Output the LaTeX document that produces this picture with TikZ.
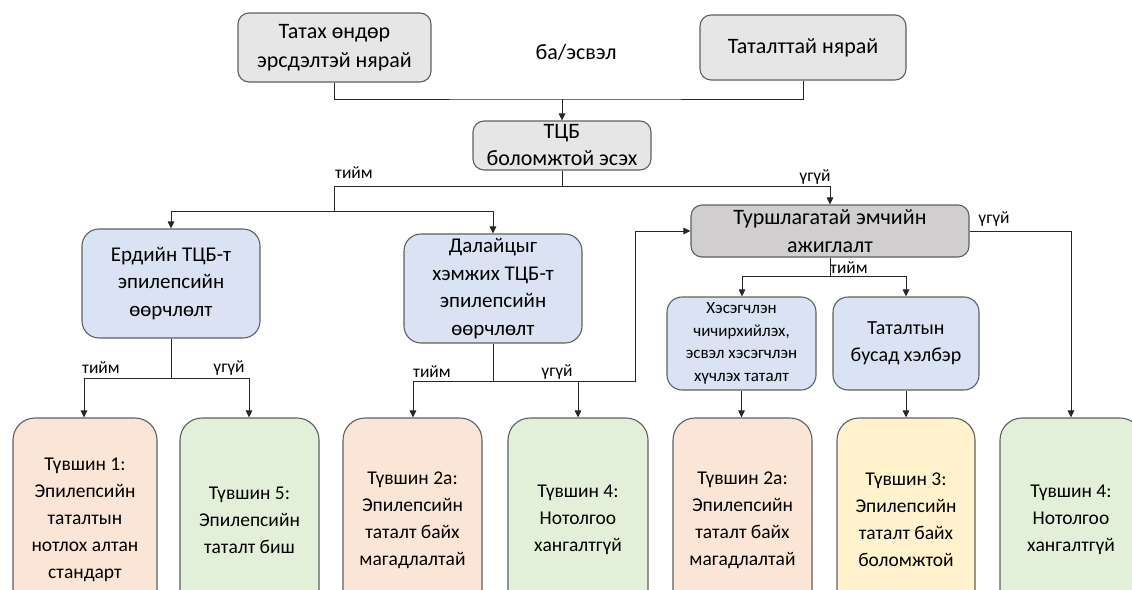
\documentclass[tikz,border=0pt]{standalone}
\usepackage{fontspec}
\setmainfont{Carlito}
\usetikzlibrary{arrows.meta}
\definecolor{bordercol}{HTML}{5F5F5F}
\definecolor{linecol}{HTML}{262626}
\definecolor{lgray}{HTML}{E7E6E6}
\definecolor{dgray}{HTML}{D0CECE}
\definecolor{lblue}{HTML}{DAE3F3}
\definecolor{peach}{HTML}{FBE5D6}
\definecolor{lgreen}{HTML}{E2F0D9}
\definecolor{lyellow}{HTML}{FFF2CC}
\tikzset{
  box/.style={draw=bordercol, line width=1.1pt, align=center, inner sep=0pt},
  topbox/.style={box, fill=lgray, rounded corners=11pt, font=\fontsize{22}{29}\selectfont},
  midbox/.style={box, fill=lblue, rounded corners=17pt, font=\fontsize{21}{27.5}\selectfont},
  smallbox/.style={box, fill=lblue, rounded corners=15pt, font=\fontsize{17}{22.5}\selectfont},
  levelbox/.style={box, rounded corners=22pt, minimum height=204pt, font=\fontsize{19.5}{27}\selectfont},
  conn/.style={draw=linecol, line width=1pt},
  arr/.style={conn, -{Triangle[length=7pt,width=6.5pt]}},
  lbl/.style={font=\fontsize{17.5}{19}\selectfont, inner sep=0pt}
}
\begin{document}
\begin{tikzpicture}[x=1pt,y=-1pt]
\useasboundingbox (0,0) rectangle (1132,589);
\clip (0,0) rectangle (1132,589);
% top row
\node[topbox, minimum width=193pt, minimum height=69pt] (A) at (334.5,47.5) {Татах өндөр\\эрсдэлтэй нярай};
\node[topbox, minimum width=206pt, minimum height=65pt] (B) at (803,47.5) {Таталттай нярай};
\node[font=\fontsize{22}{25}\selectfont, inner sep=0pt] (or) at (576,52) {ба/эсвэл};
\node[topbox, minimum width=178pt, minimum height=49pt, font=\fontsize{22}{27}\selectfont] (tcb) at (562,145.5) {ТЦБ\\боломжтой эсэх};
% middle row
\node[midbox, minimum width=178pt, minimum height=109pt] (erd) at (171,283.5) {Ердийн ТЦБ-т\\эпилепсийн\\өөрчлөлт};
\node[midbox, minimum width=178pt, minimum height=109pt] (dal) at (493,288.5) {Далайцыг\\хэмжих ТЦБ-т\\эпилепсийн\\өөрчлөлт};
\node[topbox, fill=dgray, minimum width=278pt, minimum height=52pt, font=\fontsize{22}{28}\selectfont] (tur) at (830,231) {Туршлагатай эмчийн\\ажиглалт};
\node[smallbox, minimum width=149pt, minimum height=93pt] (hes) at (741.5,343.5) {Хэсэгчлэн\\чичирхийлэх,\\эсвэл хэсэгчлэн\\хүчлэх таталт};
\node[midbox, rounded corners=15pt, minimum width=146pt, minimum height=93pt, font=\fontsize{20}{27}\selectfont] (bus) at (906,343.5) {Таталтын\\бусад хэлбэр};
% bottom row
\node[levelbox, fill=peach,   minimum width=144pt] (b1) at (85,520)   {Түвшин 1:\\Эпилепсийн\\таталтын\\нотлох алтан\\стандарт};
\node[levelbox, fill=lgreen,  minimum width=139pt] (b2) at (249.5,520) {Түвшин 5:\\Эпилепсийн\\таталт биш};
\node[levelbox, fill=peach,   minimum width=139pt] (b3) at (412.5,520) {Түвшин 2а:\\Эпилепсийн\\таталт байх\\магадлалтай};
\node[levelbox, fill=lgreen,  minimum width=140pt] (b4) at (578,520)   {Түвшин 4:\\Нотолгоо\\хангалтгүй};
\node[levelbox, fill=peach,   minimum width=139pt] (b5) at (742.5,520) {Түвшин 2а:\\Эпилепсийн\\таталт байх\\магадлалтай};
\node[levelbox, fill=lyellow, minimum width=138pt] (b6) at (906,520)   {Түвшин 3:\\Эпилепсийн\\таталт байх\\боломжтой};
\node[levelbox, fill=lgreen,  minimum width=142pt] (b7) at (1071,520)  {Түвшин 4:\\Нотолгоо\\хангалтгүй};
% junction coordinates
\coordinate (j1) at (562,99);
\coordinate (j2) at (562,186);
\coordinate (j2l) at (334,186);
\coordinate (j2r) at (830,186);
\coordinate (j3) at (334,211);
\coordinate (j3l) at (171,211);
\coordinate (j3r) at (493,211);
\coordinate (j4) at (171,378);
\coordinate (j4l) at (84,378);
\coordinate (j4r) at (249,378);
\coordinate (j5) at (493,381);
\coordinate (j5l) at (413,381);
\coordinate (j5m) at (578,381);
\coordinate (j5r) at (635,381);
\coordinate (j5u) at (635,231);
\coordinate (j6) at (1071,231);
\coordinate (j7) at (830,276);
\coordinate (j7l) at (742,276);
\coordinate (j7r) at (906,276);
% connectors
\draw[conn] (A.south) |- (j1) -| (B.south);
\draw[arr] (j1) -- (tcb.north);
\draw[conn] (tcb.south) -- (j2);
\draw[conn] (j2l) -- (j2r);
\draw[arr] (j2r) -- (tur.north);
\draw[conn] (j2l) -- (j3);
\draw[conn] (j3l) -- (j3r);
\draw[arr] (j3l) -- (erd.north);
\draw[arr] (j3r) -- (dal.north);
\draw[conn] (erd.south) -- (j4);
\draw[conn] (j4l) -- (j4r);
\draw[arr] (j4l) -- (j4l |- b1.north);
\draw[arr] (j4r) -- (j4r |- b2.north);
\draw[conn] (dal.south) -- (j5);
\draw[conn] (j5l) -- (j5r) -- (j5u);
\draw[arr] (j5u) -- (tur.west);
\draw[arr] (j5l) -- (j5l |- b3.north);
\draw[arr] (j5m) -- (j5m |- b4.north);
\draw[conn] (tur.east) -- (j6);
\draw[arr] (j6) -- (j6 |- b7.north);
\draw[conn] (tur.south) -- (j7);
\draw[conn] (j7l) -- (j7r);
\draw[arr] (j7l) -- (j7l |- hes.north);
\draw[arr] (j7r) -- (j7r |- bus.north);
\draw[arr] (hes.south) -- (hes.south |- b5.north);
\draw[arr] (bus.south) -- (bus.south |- b6.north);
% labels
\node[lbl] (l1) at (354,173) {тийм};
\node[lbl] (l2) at (815,177) {үгүй};
\node[lbl] (l3) at (101,368) {тийм};
\node[lbl] (l4) at (229,368) {үгүй};
\node[lbl] (l5) at (432,372) {тийм};
\node[lbl] (l6) at (557,372) {үгүй};
\node[lbl] (l7) at (994,219) {үгүй};
\node[lbl] (l8) at (849,268) {тийм};
\end{tikzpicture}
\end{document}
